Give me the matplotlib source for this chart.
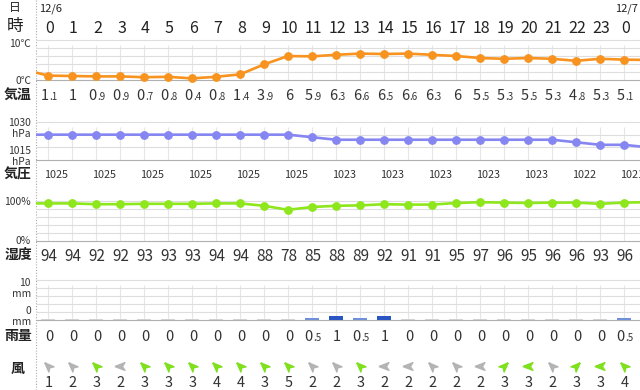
import numpy as np
import matplotlib
matplotlib.use('Agg')
import matplotlib.pyplot as plt

plt.rcParams['font.family'] = ['Noto Sans CJK JP', 'DejaVu Sans']

# hourly data, 12/6 0時 .. 12/7 0時
hour_labels = [str(h) for h in range(24)] + ['0']
date_labels = {0: '12/6', 24: '12/7'}
temp = [1.1, 1, 0.9, 0.9, 0.7, 0.8, 0.4, 0.8, 1.4, 3.9, 6, 5.9, 6.3,
        6.6, 6.5, 6.6, 6.3, 6, 5.5, 5.3, 5.5, 5.3, 4.8, 5.3, 5.1]
temp_edge = [2.6, 5.0]          # hour before / after the window
pres = [1025] * 11 + [1024] + [1023] * 10 + [1022, 1021, 1021]
pres_edge = [1025, 1020]
humid = [94, 94, 92, 92, 93, 93, 93, 94, 94, 88, 78, 85, 88,
         89, 92, 91, 91, 95, 97, 96, 95, 96, 96, 93, 96]
humid_edge = [94, 97]
rain = [0] * 11 + [0.5, 1, 0.5, 1] + [0] * 9 + [0.5]
wind_speed = [1, 2, 3, 2, 3, 3, 3, 4, 4, 3, 5, 2, 2,
              3, 2, 2, 2, 2, 2, 3, 3, 2, 3, 3, 4]
wind_dir = ['NW', 'NW', 'NW', 'W', 'NW', 'NW', 'NW', 'NW', 'NW', 'NW', 'NW', 'NW', 'NW',
            'NW', 'W', 'W', 'NW', 'NW', 'W', 'NE', 'W', 'NW', 'NE', 'W', 'NW']
dir_angle = {'W': 180, 'NW': 135, 'NE': 45}

W, H = 640, 390
fig = plt.figure(figsize=(6.4, 3.9), dpi=100)
x = np.arange(len(temp))
x_ext = np.arange(-1, len(temp) + 1)


def px(p):
    # pixel column -> hour units
    return (p - 48) / 24


base = fig.add_axes([0, 0, 1, 1])
base.set_xlim(px(0), px(W))
base.set_ylim(H, 0)
base.axis('off')
base.axvline(px(36), color='#aaaaaa', ls=(0, (1, 1.5)), lw=0.8)


def panel(top, bottom, lo, hi, step, pad=10):
    k = (hi - lo) / (bottom - top)
    ax = fig.add_axes([36 / W, 1 - (bottom + pad) / H, (W - 36) / W, (bottom - top + 2 * pad) / H])
    ax.set_xlim(px(36), px(W))
    ax.set_ylim(lo - pad * k, hi + pad * k)
    ax.axis('off')
    for v in np.arange(lo, hi + step / 2, step):
        ax.axhline(v, color='#b0b0b0' if v == lo else '#dedede', lw=0.8, zorder=1)
    ax.vlines(x, lo, lo + 0.88 * (hi - lo), color='#e6e6e6', lw=0.8, zorder=0)
    return ax


def split_label(xc, y, v, big, small):
    s = f'{v:g}'
    if '.' in s:
        a, b = s.split('.')
        base.text(xc + 0.04, y, a, ha='right', va='baseline', fontsize=big, color='#333333')
        base.text(xc + 0.04, y, '.' + b, ha='left', va='baseline', fontsize=small, color='#333333')
    else:
        base.text(xc + 0.04, y, s, ha='center', va='baseline', fontsize=big, color='#333333')


# header
base.text(px(14.5), 7.5, '日', ha='center', va='center', fontsize=8.5, color='#222222')
base.text(px(15), 27, '時', ha='center', va='center', fontsize=12, color='#222222')
for i, d in date_labels.items():
    base.text(x[i] + 0.12, 11.7, d, ha='center', va='baseline', fontsize=8, color='#222222')
for xi, h in zip(x, hour_labels):
    base.text(xi + 0.06, 33.3, h, ha='center', va='baseline', fontsize=11.5, color='#222222')

# row titles and axis texts
for y, t in [(94.5, '気温'), (175, '気圧'), (255, '湿度'), (336, '雨量'), (369, '風')]:
    base.text(px(18), y, t, ha='center', va='center', fontsize=10, fontweight='bold', color='#222222')
for y, t in [(43.7, '10℃'), (80.5, '0℃'), (123.3, '1030'), (134, 'hPa'), (150.7, '1015'),
             (161.7, 'hPa'), (202.3, '100%'), (240.7, '0%'), (282.7, '10'), (293.7, 'mm'),
             (310.7, '0'), (321.7, 'mm')]:
    base.text(px(31), y, t, ha='right', va='center', fontsize=7.4, color='#333333')

# temperature
ax_t = panel(40, 80, 0, 10, 2)
ax_t.plot(x_ext, [temp_edge[0]] + temp + [temp_edge[1]], color='#f7931e', lw=1.9, zorder=3)
ax_t.plot(x, temp, 'o', color='#f7931e', ms=5.3, zorder=4)
for xi, v in zip(x, temp):
    split_label(xi, 100, v, 10.5, 7)

# pressure
ax_p = panel(122, 160, 1015, 1030, 5)
ax_p.plot(x_ext, [pres_edge[0]] + pres + [pres_edge[1]], color='#8686f2', lw=1.9, zorder=3)
ax_p.plot(x, pres, 'o', color='#8686f2', ms=5.3, zorder=4)
for xi, v in zip(x[::2], pres[::2]):
    base.text(xi + 0.33, 177.7, str(v), ha='center', va='baseline', fontsize=7.8, color='#333333')

# humidity
ax_h = panel(201, 241, 0, 100, 20)
ax_h.plot(x_ext, [humid_edge[0]] + humid + [humid_edge[1]], color='#8ee61c', lw=1.9, zorder=3)
ax_h.plot(x, humid, 'o', color='#8ee61c', ms=5.3, zorder=4)
for xi, v in zip(x, humid):
    base.text(xi + 0.04, 261, str(v), ha='center', va='baseline', fontsize=11, color='#333333')

# rain
ax_r = panel(280, 320, 0, 10, 2)
rain_h = [r if r > 0 else 0.35 for r in rain]
rain_c = ['#2c55c4' if r >= 1 else '#7090dc' if r > 0 else '#d0d0d0' for r in rain]
ax_r.bar(x, rain_h, width=0.55, color=rain_c, zorder=3)
for xi, v in zip(x, rain):
    split_label(xi, 340.7, v, 10.5, 7)

# wind
arrow = np.array([(1, 0), (-0.8, 0.7), (-0.35, 0), (-0.8, -0.7), (1, 0)])
for xi, s, d in zip(x, wind_speed, wind_dir):
    a = np.deg2rad(dir_angle[d])
    rot = np.array([[np.cos(a), -np.sin(a)], [np.sin(a), np.cos(a)]])
    verts = arrow @ rot.T
    c = '#7fe01e' if s >= 3 else '#b4b4b4'
    base.plot(xi, 366.3, marker=verts, ms=8, color=c, ls='')
    base.text(xi + 0.04, 386.7, str(s), ha='center', va='baseline', fontsize=10.5, color='#333333')

fig.savefig('out.png', dpi=100)
